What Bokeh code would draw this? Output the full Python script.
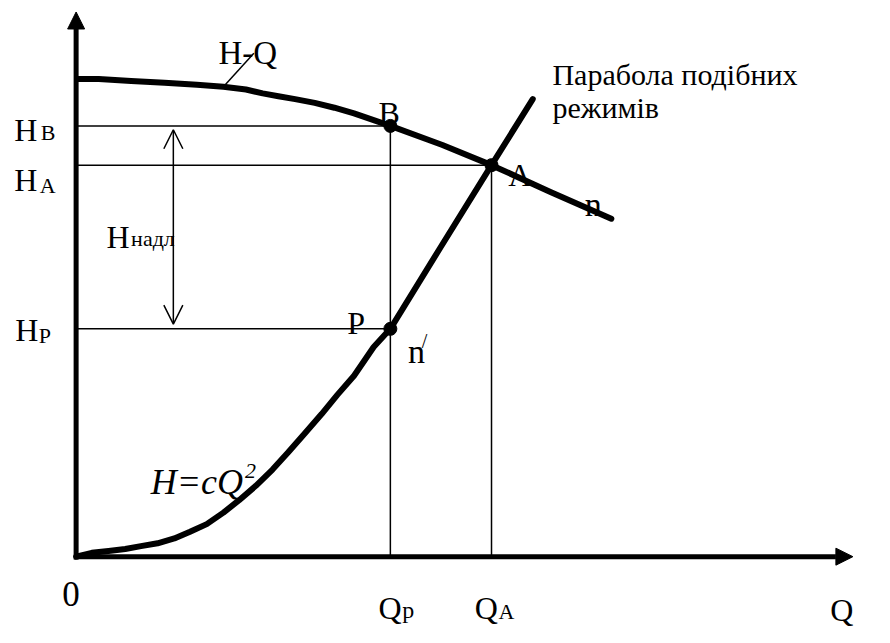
from bokeh.plotting import figure
from bokeh.models import Range1d, Arrow, NormalHead, OpenHead
from bokeh.core.properties import value
from bokeh.embed import file_html
from bokeh.resources import INLINE

# Pump characteristic H-Q at speed n
hq_Q = [1, 23, 56, 90, 123, 150, 173, 190, 206, 223, 243, 263, 283, 303, 320, 373, 423, 483, 545]
hq_H = [499, 499, 497, 495, 493, 491, 488, 484, 481, 478, 474, 469, 463, 456, 450, 430, 409, 381, 353]

# Parabola of similar regimes H = cQ^2
par_Q = [0, 16, 33, 50, 66, 83, 100, 116, 133, 150, 166, 183, 200, 216, 233, 250, 266, 283, 303, 320, 371, 423, 465]
par_H = [0, 4, 6, 8, 11, 14, 19, 26, 34, 46, 59, 74, 91, 109, 129, 149, 169, 189, 219, 238, 323, 409, 478]

# Operating points B, A, P
pt_names = ["B", "A", "P"]
pt_Q = [320, 423, 320]
pt_H = [450, 409, 238]

# Axis extents (arrow tips)
Q_axis_end = 791
H_axis_end = 569

p = figure(width=874, height=627,
           x_range=Range1d(-77, 813), y_range=Range1d(-74, 581),
           x_axis_location=None, y_axis_location=None,
           output_backend="svg", toolbar_location=None, min_border=0)
p.grid.visible = False
p.outline_line_color = None
p.background_fill_color = "white"
p.border_fill_color = "white"

B_Q, A_Q, P_Q = pt_Q
B_H, A_H, P_H = pt_H

# thin reference lines
p.segment(x0=[0, 0, 0], y0=[B_H, A_H, P_H], x1=[B_Q, A_Q, P_Q], y1=[B_H, A_H, P_H],
          line_color="black", line_width=1.5)
p.segment(x0=[B_Q, A_Q], y0=[0, 0], x1=[B_Q, A_Q], y1=[B_H, A_H],
          line_color="black", line_width=1.5)
# leader line to "H-Q"
p.segment(x0=[150], y0=[491], x1=[181], y1=[526], line_color="black", line_width=1.5)

# excess head double arrow
p.add_layout(Arrow(x_start=99, y_start=P_H + 5, x_end=99, y_end=B_H - 4,
                   line_width=1.5, line_color="black",
                   start=OpenHead(size=19, line_width=1.5, line_color="black"),
                   end=OpenHead(size=19, line_width=1.5, line_color="black")))

# curves
p.line(hq_Q, hq_H, line_color="black", line_width=6, line_join="round", line_cap="round")
p.line(par_Q, par_H, line_color="black", line_width=6, line_join="round", line_cap="round")

# axes with arrows
p.add_layout(Arrow(x_start=0, y_start=-3, x_end=0, y_end=H_axis_end, line_width=5,
                   line_color="black",
                   end=NormalHead(size=17, fill_color="black", line_color="black")))
p.add_layout(Arrow(x_start=-2, y_start=0, x_end=Q_axis_end, y_end=0, line_width=5,
                   line_color="black",
                   end=NormalHead(size=17, fill_color="black", line_color="black")))

# operating points
p.scatter(pt_Q, pt_H, size=13, color="black")

def txt(x, y, s, size, style="normal"):
    p.text(x=[x], y=[y], text=[s], text_font=value("Times New Roman"),
           text_font_size=f"{size}px",
           text_font_style=style, text_color="black",
           text_baseline="alphabetic", text_align="left")

# labels
txt(145, 526, "H-Q", 33)
txt(-63, 446, "H", 32); txt(-36, 443, "B", 22)
txt(-63, 394, "H", 32); txt(-37, 388, "A", 22)
txt(-62, 237, "H", 32); txt(-38, 231, "P", 22)
txt(31, 334, "H", 32); txt(56, 332, "надл", 22)
txt(308, 463, "B", 32)
txt(440, 399, "A", 32)
txt(518, 368, "n", 34)
txt(276, 244, "P", 32)
txt(338, 214, "n", 34); txt(352, 225, "/", 20)
txt(485, 504, "Парабола подібних", 30)
txt(485, 469, "режимів", 30)
txt(76, 78, "H=cQ", 36, "italic"); txt(172, 90, "2", 22, "italic")
txt(-14, -39, "0", 35)
txt(308, -54, "Q", 32); txt(332, -56, "p", 24)
txt(406, -54, "Q", 32); txt(430, -57, "A", 22)
txt(768, -56, "Q", 32)

open("out.html", "w").write(file_html(p, INLINE))
